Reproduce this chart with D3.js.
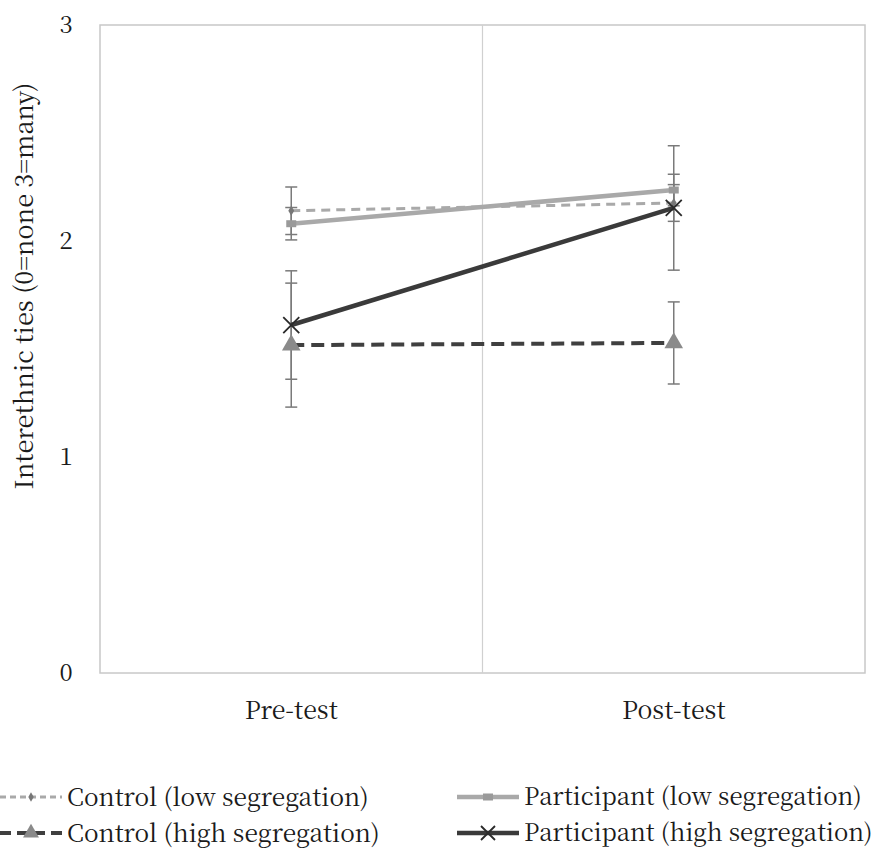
<!DOCTYPE html>
<html><head><meta charset="utf-8">
<script src="https://cdn.jsdelivr.net/npm/d3@7/dist/d3.min.js"></script>
<style>body{margin:0;background:#fff}svg{display:block}</style>
</head><body>
<script>
const categories = ["Pre-test", "Post-test"];
const seriesNames = ["Control (low segregation)", "Control (high segregation)", "Participant (low segregation)", "Participant (high segregation)"];
const controlLow = [2.14, 2.176];
const controlLowErr = [0.11, 0.085];
const controlHigh = [1.518, 1.528];
const controlHighErr = [0.287, 0.19];
const participantLow = [2.08, 2.236];
const participantLowErr = [0.075, 0.073];
const participantHigh = [1.611, 2.153];
const participantHighErr = [0.251, 0.288];
const yTicks = [0, 1, 2, 3];
const yTitle = "Interethnic ties (0=none 3=many)";

(function () {
const W = 880, H = 848;
const pL = 100, pR = 865, pT = 25, pB = 673;
const font = "\"Noto Serif CJK SC\", \"Liberation Serif\", serif";

const svg = d3.select("body").append("svg").attr("width", W).attr("height", H);
const x = d3.scaleBand().domain(categories).range([pL, pR]);
const y = d3.scaleLinear().domain([0, 3]).range([pB, pT]);

svg.append("rect").attr("x", pL).attr("y", pT).attr("width", pR - pL).attr("height", pB - pT)
  .attr("fill", "none").attr("stroke", "#c8c8c8").attr("stroke-width", 1.5);
svg.append("line").attr("x1", x("Post-test")).attr("x2", x("Post-test")).attr("y1", pT).attr("y2", pB)
  .attr("stroke", "#d0d0d0").attr("stroke-width", 1.2);

svg.append("g").selectAll("text").data(yTicks).join("text")
  .attr("x", 66).attr("y", d => y(d)).attr("dy", "0.35em").attr("text-anchor", "middle")
  .style("font-family", font).attr("font-size", 24).attr("fill", "#1a1a1a").text(d => d);

svg.append("g").selectAll("text").data(categories).join("text")
  .attr("x", d => x(d) + x.bandwidth() / 2).attr("y", 710).attr("dy", "0.35em").attr("text-anchor", "middle")
  .style("font-family", font).attr("font-size", 25).attr("fill", "#1a1a1a").text(d => d);

svg.append("text").attr("transform", `translate(24,286) rotate(-90)`)
  .attr("text-anchor", "middle").attr("dy", "0.35em")
  .attr("textLength", 407).attr("lengthAdjust", "spacingAndGlyphs")
  .style("font-family", font).attr("font-size", 25).attr("fill", "#1a1a1a").text(yTitle);

const cx = c => x(c) + x.bandwidth() / 2;

const series = [
  {name: seriesNames[0], v: controlLow, e: controlLowErr, color: "#a9a9a9", w: 3, dash: "9,6", marker: "diamond", mcolor: "#777"},
  {name: seriesNames[1], v: controlHigh, e: controlHighErr, color: "#3f3f3f", w: 4, dash: "13,7", marker: "triangle", mcolor: "#8a8a8a"},
  {name: seriesNames[2], v: participantLow, e: participantLowErr, color: "#a9a9a9", w: 4.5, dash: null, marker: "dash", mcolor: "#9a9a9a"},
  {name: seriesNames[3], v: participantHigh, e: participantHighErr, color: "#3a3a3a", w: 4.5, dash: null, marker: "x", mcolor: "#2a2a2a"}
];

const eg = svg.append("g");
series.forEach(s => {
  categories.forEach((c, i) => {
    const X = cx(c), y1 = y(s.v[i] + s.e[i]), y2 = y(s.v[i] - s.e[i]);
    eg.append("line").attr("x1", X).attr("x2", X).attr("y1", y1).attr("y2", y2).attr("stroke", "#7a7a7a").attr("stroke-width", 1.5);
    [y1, y2].forEach(yy => eg.append("line").attr("x1", X - 6).attr("x2", X + 6).attr("y1", yy).attr("y2", yy).attr("stroke", "#7a7a7a").attr("stroke-width", 1.5));
  });
});

const line = d3.line().x((d, i) => cx(categories[i])).y(d => y(d));

function drawMarker(g, type, X, Y, color, size) {
  if (type === "diamond") {
    g.append("path").attr("d", d3.symbol().type(d3.symbolDiamond).size(size || 30)()).attr("transform", `translate(${X},${Y})`).attr("fill", color);
  } else if (type === "triangle") {
    g.append("path").attr("d", d3.symbol().type(d3.symbolTriangle).size(size || 150)()).attr("transform", `translate(${X},${Y})`).attr("fill", color);
  } else if (type === "dash") {
    g.append("rect").attr("x", X - 5).attr("y", Y - 3.5).attr("width", 10).attr("height", 7).attr("fill", color);
  } else if (type === "x") {
    const r = size || 8;
    g.append("path").attr("d", `M${X - r},${Y - r}L${X + r},${Y + r}M${X - r},${Y + r}L${X + r},${Y - r}`).attr("stroke", color).attr("stroke-width", 1.8);
  }
}

const order = [1, 2, 0, 3];
order.forEach(k => {
  const s = series[k];
  const g = svg.append("g");
  g.append("path").datum(s.v).attr("d", line).attr("fill", "none").attr("stroke", s.color).attr("stroke-width", s.w)
    .attr("stroke-dasharray", s.dash);
  s.v.forEach((v, i) => drawMarker(g, s.marker, cx(categories[i]), y(v), s.mcolor));
});

const legend = [
  {s: series[0], lx: 0, ty: 797},
  {s: series[1], lx: 0, ty: 833},
  {s: series[2], lx: 457, ty: 797},
  {s: series[3], lx: 457, ty: 833}
];
legend.forEach(L => {
  const g = svg.append("g");
  const s = L.s;
  g.append("line").attr("x1", L.lx).attr("x2", L.lx + 62).attr("y1", L.ty).attr("y2", L.ty)
    .attr("stroke", s.color).attr("stroke-width", s.w).attr("stroke-dasharray", s.dash ? (s.w > 3 ? "11,6" : "6,4") : null);
  drawMarker(g, s.marker, L.lx + 31, L.ty, s.mcolor, s.marker === "triangle" ? 110 : (s.marker === "x" ? 7 : 25));
  g.append("text").attr("x", L.lx + 67).attr("y", L.ty).attr("dy", "0.35em")
    .style("font-family", font).attr("font-size", L.lx > 0 ? 24 : 24.5).attr("fill", "#1a1a1a").text(s.name);
});
})();
</script>
</body></html>
